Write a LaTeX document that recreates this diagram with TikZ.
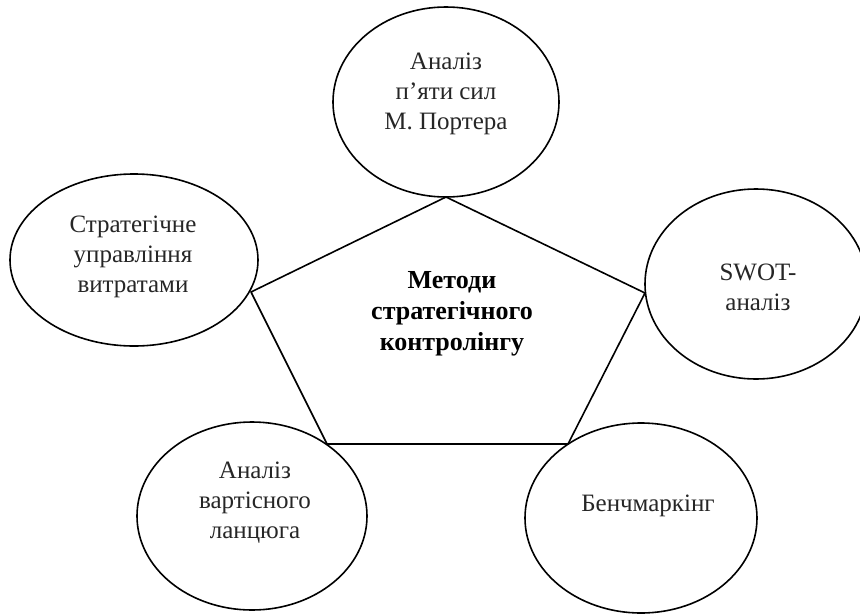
\documentclass[tikz,border=0pt]{standalone}
\usepackage{fontspec}
\setmainfont{Liberation Serif}
\usetikzlibrary{shapes.geometric}
\begin{document}
\begin{tikzpicture}[x=1pt,y=-1pt,
  oval/.style={draw=black, line width=1.6pt, ellipse, inner sep=0pt},
  lbl/.style={align=center, font=\fontsize{25}{30}\selectfont, text=black!85},
  ttl/.style={align=center, font=\bfseries\fontsize{26}{31}\selectfont, text=black},
  edge/.style={draw=black, line width=1.6pt, line join=round}]
\useasboundingbox[fill=white] (0,0) rectangle (860,614);
% ellipses
\node[oval, minimum width=226pt, minimum height=190pt] (e1) at (446,102) {};
\node[oval, minimum width=248pt, minimum height=172pt] (e2) at (134,260) {};
\node[oval, minimum width=222pt, minimum height=190pt] (e3) at (756,284) {};
\node[oval, minimum width=230pt, minimum height=188pt] (e4) at (252,516) {};
\node[oval, minimum width=232pt, minimum height=190pt] (e5) at (641,518) {};
% texts
\node[lbl] (t1) at (446,94) {Аналіз\\п’яти сил\\М. Портера};
\node[lbl] (t2) at (133,257) {Стратегічне\\управління\\витратами};
\node[lbl] (t3) at (758,287) {SWOT-\\аналіз};
\node[lbl] (t4) at (255,503) {Аналіз\\вартісного\\ланцюга};
\node[lbl] (t5) at (648,506) {Бенчмаркінг};
\node[ttl] (t0) at (452,314) {Методи\\стратегічного\\контролінгу};
% pentagon
\coordinate (p1) at (446,197);
\coordinate (p2) at (645,293);
\coordinate (p3) at (568,444);
\coordinate (p4) at (327,444);
\coordinate (p5) at (251,292);
\draw[edge] (p1) -- (p2) -- (p3) -- (p4) -- (p5) -- cycle;
\end{tikzpicture}
\end{document}
